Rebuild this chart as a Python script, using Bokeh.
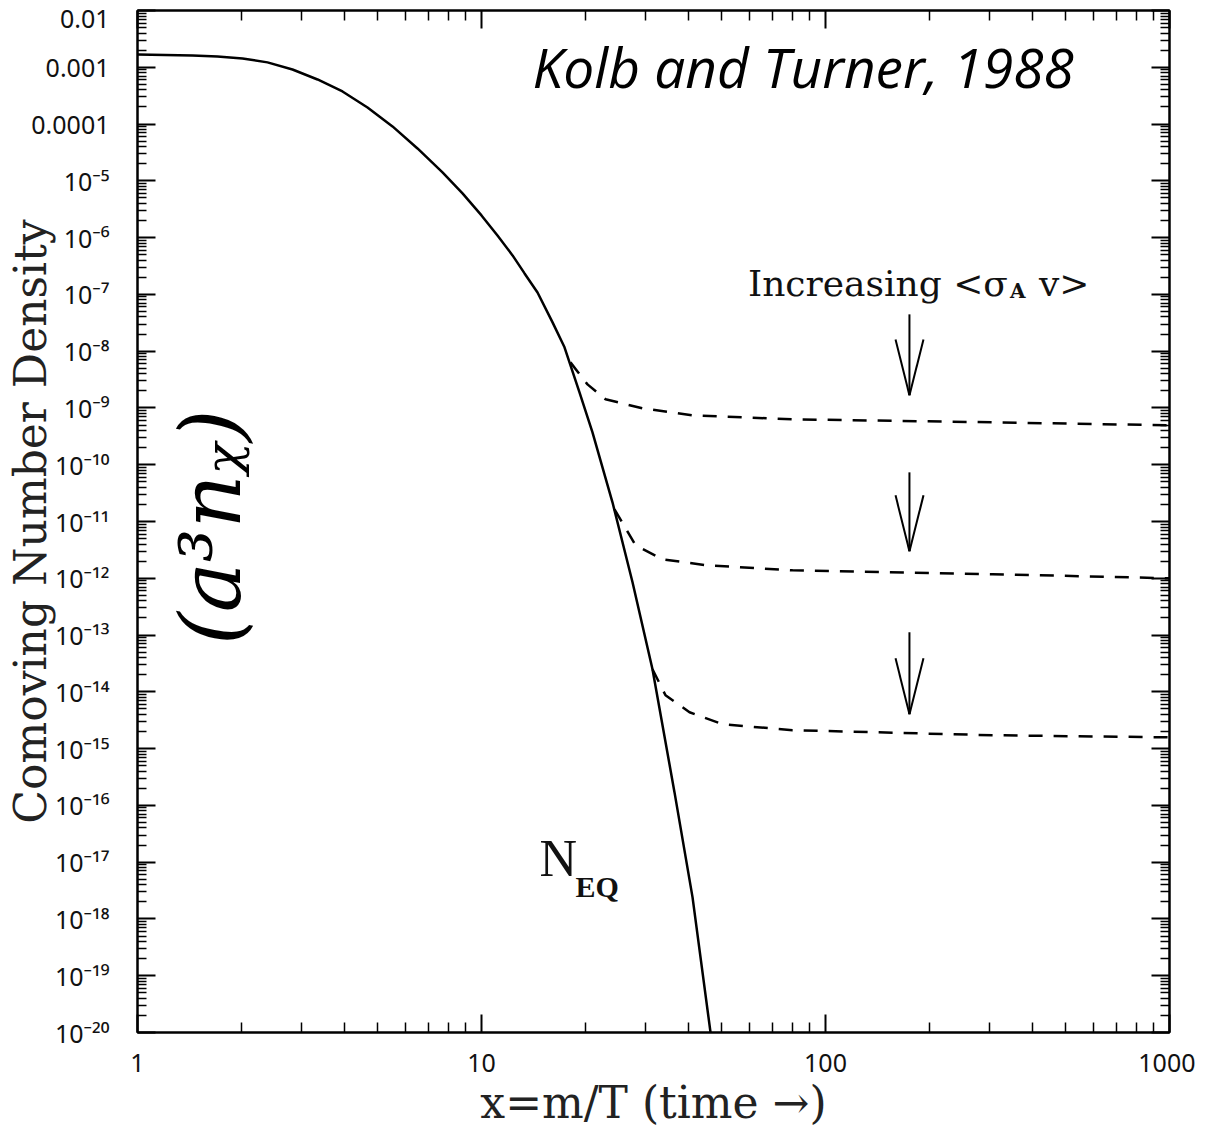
import numpy as np
from bokeh.plotting import figure
from bokeh.models import LogAxis, FixedTicker, Label
from bokeh.embed import file_html
from bokeh.resources import INLINE

# ---- data ----
# equilibrium (solid) curve N_EQ
eq_x = [1.0, 1.445, 1.708, 2.020, 2.387, 2.822, 3.337, 3.944, 4.663, 5.512, 6.516, 7.703,
        8.808, 10.0, 11.13, 12.31, 13.34, 14.55, 16.09, 17.43, 19.27, 21.02, 24.03, 27.48,
        31.41, 36.39, 41.06, 46.32]
eq_y = [1.68e-3, 1.62e-3, 1.55e-3, 1.43e-3, 1.22e-3, 9.15e-4, 6.1e-4, 3.75e-4, 1.96e-4,
        9.08e-5, 3.72e-5, 1.41e-5, 6.0e-6, 2.46e-6, 1.09e-6, 4.86e-7, 2.34e-7, 1.08e-7,
        3.21e-8, 1.17e-8, 1.88e-9, 3.72e-10, 2.18e-11, 8.51e-13, 2.50e-14, 1.71e-16,
        2.42e-18, 1.0e-20]

# freeze-out branches (dashed), increasing <sigma_A v>
fo1_x = [18.14, 20.33, 22.94, 29.38, 41.06, 80.21, 305.9, 1000.0]
fo1_y = [6.35e-9, 2.60e-9, 1.42e-9, 9.83e-10, 7.41e-10, 6.30e-10, 5.58e-10, 4.94e-10]
fo2_x = [24.36, 28.04, 33.59, 44.80, 80.21, 305.9, 1000.0]
fo2_y = [1.64e-11, 3.81e-12, 2.16e-12, 1.70e-12, 1.38e-12, 1.18e-12, 1.0e-12]
fo3_x = [31.41, 34.27, 40.24, 50.18, 80.21, 305.9, 1000.0]
fo3_y = [2.50e-14, 8.71e-15, 4.37e-15, 2.69e-15, 2.11e-15, 1.72e-15, 1.58e-15]

# ticks
x_major = [1.0, 10.0, 100.0, 1000.0]
x_minor = [d * 10.0 ** k for k in range(0, 3) for d in range(2, 10)]
y_major = [10.0 ** -k for k in range(2, 21)]
y_minor = [d * 10.0 ** -k for k in range(3, 21) for d in range(2, 10)]
x_tick_labels = ["1", "10", "100", "1000"]
sup = str.maketrans("-0123456789", "⁻⁰¹²³⁴⁵⁶⁷⁸⁹")
y_tick_labels = ["0.01", "0.001", "0.0001"] + ["10" + ("-" + str(k)).translate(sup) for k in range(5, 21)]

# ---- figure ----
W, H = 1195, 1131
p = figure(width=W, height=H, x_axis_type="log", y_axis_type="log",
           x_range=(1, 1000), y_range=(1e-20, 1e-2),
           output_backend="svg", toolbar_location=None,
           min_border_left=137, min_border_right=26, min_border_top=10, min_border_bottom=99)
p.background_fill_color = "white"
p.border_fill_color = "white"
p.outline_line_color = "black"
p.outline_line_width = 2
p.xgrid.visible = False
p.ygrid.visible = False

def style_axis(ax, ticks, minor, maj_len, min_len, labels=True):
    ax.ticker = FixedTicker(ticks=ticks, minor_ticks=minor)
    ax.axis_line_color = "black"
    ax.axis_line_width = 2
    ax.major_tick_line_color = "black"
    ax.major_tick_line_width = 2
    ax.minor_tick_line_color = "black"
    ax.minor_tick_line_width = 1.5
    ax.major_tick_in = maj_len
    ax.major_tick_out = 0
    ax.minor_tick_in = min_len
    ax.minor_tick_out = 0
    if labels:
        ax.major_label_text_font = "Noto Sans"
        ax.major_label_text_font_size = "25px"
        ax.major_label_text_color = "#111111"
    else:
        ax.major_label_text_font_size = "2px"
        ax.major_label_text_alpha = 0
        ax.major_label_standoff = 0

serif = "DejaVu Serif"
xa, ya = p.xaxis[0], p.yaxis[0]
style_axis(xa, x_major, x_minor, 18, 10)
style_axis(ya, y_major, y_minor, 18, 9)
xa.major_label_overrides = dict(zip(x_major, x_tick_labels))
ya.major_label_overrides = dict(zip(y_major, y_tick_labels))
xa.major_label_standoff = 21
ya.major_label_standoff = 28
for ax, txt, so in ((xa, "x=m/T (time →)", 2), (ya, "Comoving Number Density", -28)):
    ax.axis_label = txt
    ax.axis_label_text_font = serif
    ax.axis_label_text_font_style = "normal"
    ax.axis_label_text_font_size = "44px"
    ax.axis_label_text_color = "#222222"
    ax.axis_label_standoff = so

top = LogAxis()
style_axis(top, x_major, x_minor, 18, 10, labels=False)
p.add_layout(top, "above")
right = LogAxis()
style_axis(right, y_major, y_minor, 18, 9, labels=False)
p.add_layout(right, "right")

# ---- curves ----
p.line(eq_x, eq_y, line_color="black", line_width=2.5)
for xs, ys in ((fo1_x, fo1_y), (fo2_x, fo2_y), (fo3_x, fo3_y)):
    p.line(xs, ys, line_color="black", line_width=2.5, line_dash="14 11")

# ---- arrows (Increasing <sigma_A v>) ----
arrow_x = 175.4
arrow_hw = (159.8, 192.7)
arrow_top = [4.45e-8, 7.34e-11, 1.12e-13]
arrow_tip = [1.67e-9, 2.99e-12, 4.04e-15]
arrow_base = [1.61e-8, 2.89e-11, 3.91e-14]
n = len(arrow_top)
p.segment(x0=[arrow_x] * n, y0=arrow_top, x1=[arrow_x] * n, y1=arrow_tip,
          line_color="black", line_width=2)
p.segment(x0=[arrow_hw[0]] * n + [arrow_hw[1]] * n, y0=arrow_base * 2,
          x1=[arrow_x] * (2 * n), y1=arrow_tip * 2, line_color="black", line_width=2)

# ---- texts ----
p.add_layout(Label(x=14.07, y=1.05e-3, text="Kolb and Turner, 1988", text_font="Open Sans",
                   text_font_style="italic", text_font_size="55px", text_color="black",
                   text_align="left", text_baseline="alphabetic"))
p.add_layout(Label(x=59.5, y=1.55e-7, text="Increasing <σ", text_font=serif,
                   text_font_size="36px", text_color="#111111",
                   text_align="left", text_baseline="alphabetic"))
p.add_layout(Label(x=362.0, y=1.17e-7, text="A", text_font=serif, text_font_style="bold",
                   text_font_size="20px", text_color="#111111",
                   text_align="center", text_baseline="alphabetic"))
p.add_layout(Label(x=585.0, y=1.55e-7, text="v>", text_font=serif,
                   text_font_size="36px", text_color="#111111",
                   text_align="right", text_baseline="alphabetic"))
p.add_layout(Label(x=14.75, y=1.17e-17, text="N", text_font="Liberation Serif",
                   text_font_size="52px", text_color="#111111",
                   text_align="left", text_baseline="alphabetic"))
p.add_layout(Label(x=18.76, y=3.8e-18, text="EQ", text_font="Liberation Serif",
                   text_font_style="bold", text_font_size="30px", text_color="#111111",
                   text_align="left", text_baseline="alphabetic"))
p.add_layout(Label(x=1.64, y=7.9e-12, text="(a³nᵪ)", text_font=serif,
                   text_font_style="italic", text_font_size="84px", text_color="black",
                   angle=np.pi / 2, text_align="center", text_baseline="middle"))

open("out.html", "w").write(file_html(p, INLINE))
